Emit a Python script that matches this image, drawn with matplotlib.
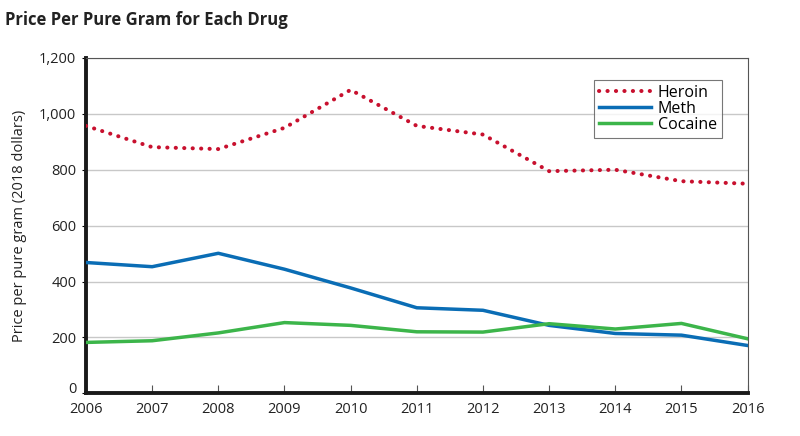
import matplotlib.pyplot as plt
import matplotlib.ticker as mticker

plt.rcParams['font.family'] = ['Open Sans', 'DejaVu Sans']

years = [2006, 2007, 2008, 2009, 2010, 2011, 2012, 2013, 2014, 2015, 2016]
heroin = [957, 881, 874, 950, 1086, 957, 926, 795, 800, 759, 750]
meth = [468, 453, 501, 444, 377, 306, 297, 243, 214, 208, 171]
cocaine = [182, 188, 216, 253, 243, 220, 219, 249, 230, 250, 195]

fig = plt.figure(figsize=(8, 4.36), dpi=100)
ax = fig.add_axes([0.1075, 0.098, 0.827, 0.769])

ax.plot(years, heroin, color='#c8102e', linewidth=2.9, linestyle=(0, (0.05, 2.05)),
        dash_capstyle='round', label='Heroin', zorder=3)
ax.plot(years, meth, color='#0a6db5', linewidth=2.5, label='Meth', zorder=3)
ax.plot(years, cocaine, color='#3cb54a', linewidth=2.5, label='Cocaine', zorder=3)

ax.set_xlim(2006, 2016)
ax.set_ylim(0, 1200)
ax.set_xticks(years)
ax.set_yticks(range(0, 1201, 200))
ax.yaxis.set_major_formatter(mticker.FuncFormatter(lambda v, p: f'{int(v):,}'))
ax.grid(axis='y', color='#c8c8c8', linewidth=1)
ax.set_axisbelow(True)

for s in ['top', 'right']:
    ax.spines[s].set_color('#555555')
    ax.spines[s].set_linewidth(0.8)
for s in ['left', 'bottom']:
    ax.spines[s].set_color('#1a1a1a')
    ax.spines[s].set_linewidth(2.8)

ax.tick_params(axis='x', direction='in', length=6, width=0.8, color='#555555',
               labelsize=10.5, pad=6.5)
ax.tick_params(axis='y', direction='out', length=3, width=0.8, labelsize=10.5, pad=4)
for lab in ax.get_xticklabels() + ax.get_yticklabels():
    lab.set_color('#222222')
# keep the "0" from running into "2006"
ax.get_yticklabels()[0].set_va('baseline')

ax.set_ylabel('Price per pure gram (2018 dollars)', fontsize=10.5, color='#222222', labelpad=9)

leg = ax.legend(loc='upper right', bbox_to_anchor=(0.973, 0.958), fontsize=11.5,
                frameon=True, fancybox=False, edgecolor='#555555', handlelength=3.3,
                handletextpad=0.4, labelspacing=0.0, borderpad=0.3)
leg.get_frame().set_linewidth(0.8)

fig.text(0.006, 0.975, 'Price Per Pure Gram for Each Drug', fontsize=12, fontweight='bold',
         color='#222222', va='top', ha='left')

fig.savefig('out.png', dpi=100)
